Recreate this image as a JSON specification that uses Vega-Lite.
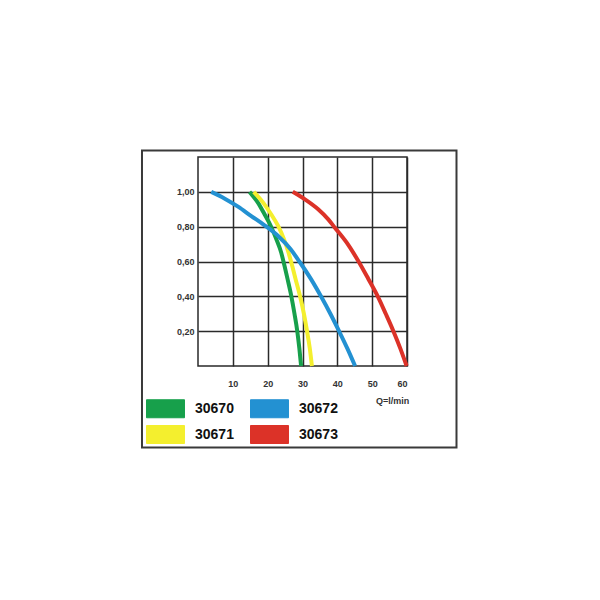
{
  "$schema": "https://vega.github.io/schema/vega-lite/v6.json",
  "width": 209,
  "height": 209,
  "autosize": {"type": "none"},
  "padding": {"left": 198, "top": 157, "right": 193, "bottom": 234},
  "background": "white",
  "config": {
    "view": {"stroke": "#2a2a2a", "strokeWidth": 1.5},
    "font": "Liberation Sans"
  },
  "data": {
    "values": [
      {"model": "30670", "q": 14.8, "h": 1.0},
      {"model": "30670", "q": 17.2, "h": 0.938},
      {"model": "30670", "q": 19.1, "h": 0.871},
      {"model": "30670", "q": 20.9, "h": 0.804},
      {"model": "30670", "q": 22.5, "h": 0.727},
      {"model": "30670", "q": 23.9, "h": 0.65},
      {"model": "30670", "q": 24.8, "h": 0.578},
      {"model": "30670", "q": 25.7, "h": 0.5},
      {"model": "30670", "q": 26.8, "h": 0.4},
      {"model": "30670", "q": 27.7, "h": 0.3},
      {"model": "30670", "q": 28.5, "h": 0.2},
      {"model": "30670", "q": 29.1, "h": 0.1},
      {"model": "30670", "q": 29.6, "h": 0.0},
      {"model": "30671", "q": 16.0, "h": 1.0},
      {"model": "30671", "q": 18.7, "h": 0.938},
      {"model": "30671", "q": 21.0, "h": 0.871},
      {"model": "30671", "q": 23.0, "h": 0.804},
      {"model": "30671", "q": 24.7, "h": 0.727},
      {"model": "30671", "q": 26.0, "h": 0.65},
      {"model": "30671", "q": 27.0, "h": 0.578},
      {"model": "30671", "q": 28.0, "h": 0.5},
      {"model": "30671", "q": 29.3, "h": 0.4},
      {"model": "30671", "q": 30.4, "h": 0.3},
      {"model": "30671", "q": 31.3, "h": 0.2},
      {"model": "30671", "q": 32.1, "h": 0.1},
      {"model": "30671", "q": 32.7, "h": 0.0},
      {"model": "30672", "q": 3.8, "h": 1.0},
      {"model": "30672", "q": 7.7, "h": 0.961},
      {"model": "30672", "q": 11.5, "h": 0.915},
      {"model": "30672", "q": 15.3, "h": 0.861},
      {"model": "30672", "q": 19.1, "h": 0.808},
      {"model": "30672", "q": 23.0, "h": 0.746},
      {"model": "30672", "q": 26.6, "h": 0.67},
      {"model": "30672", "q": 29.1, "h": 0.6},
      {"model": "30672", "q": 32.4, "h": 0.5},
      {"model": "30672", "q": 35.3, "h": 0.4},
      {"model": "30672", "q": 38.0, "h": 0.3},
      {"model": "30672", "q": 40.5, "h": 0.2},
      {"model": "30672", "q": 42.9, "h": 0.1},
      {"model": "30672", "q": 45.1, "h": 0.0},
      {"model": "30673", "q": 27.2, "h": 1.0},
      {"model": "30673", "q": 30.7, "h": 0.957},
      {"model": "30673", "q": 34.5, "h": 0.9},
      {"model": "30673", "q": 37.4, "h": 0.842},
      {"model": "30673", "q": 39.3, "h": 0.794},
      {"model": "30673", "q": 42.7, "h": 0.708},
      {"model": "30673", "q": 46.1, "h": 0.6},
      {"model": "30673", "q": 48.9, "h": 0.5},
      {"model": "30673", "q": 51.6, "h": 0.4},
      {"model": "30673", "q": 53.9, "h": 0.3},
      {"model": "30673", "q": 56.1, "h": 0.2},
      {"model": "30673", "q": 58.1, "h": 0.1},
      {"model": "30673", "q": 59.9, "h": 0.0}
    ]
  },
  "layer": [
    {
      "mark": {"type": "line", "strokeWidth": 4, "interpolate": "monotone", "clip": false},
      "encoding": {
        "x": {
          "field": "q",
          "type": "quantitative",
          "scale": {"domain": [0, 60], "nice": false, "zero": false},
          "axis": {
            "values": [10, 20, 30, 40, 50, 60],
            "grid": true,
            "domain": false,
            "ticks": false,
            "labelPadding": 13,
            "labelFontSize": 9,
            "labelFontWeight": "bold",
            "labelColor": "#333333",
            "gridColor": "#2a2a2a",
            "gridWidth": 1.5,
            "gridOpacity": 1,
            "title": "Q=l/min",
            "titleFontSize": 9,
            "titleFontWeight": "bold",
            "titleColor": "#333333",
            "titleX": 194,
            "titleY": 34,
            "titleBaseline": "middle",
            "titleAlign": "center",
            "titleAnchor": null
          }
        },
        "y": {
          "field": "h",
          "type": "quantitative",
          "scale": {"domain": [0, 1.2], "nice": false},
          "axis": {
            "values": [0.2, 0.4, 0.6, 0.8, 1.0],
            "grid": true,
            "labelExpr": "replace(format(datum.value, '.2f'), '.', ',')",
            "domain": false,
            "ticks": false,
            "labelPadding": 4,
            "labelFontSize": 9,
            "labelFontWeight": "bold",
            "labelColor": "#333333",
            "gridColor": "#2a2a2a",
            "gridWidth": 1.5,
            "gridOpacity": 1,
            "title": null
          }
        },
        "color": {
          "field": "model",
          "type": "nominal",
          "scale": {
            "domain": ["30670", "30672", "30671", "30673"],
            "range": ["#17a04b", "#2391d2", "#f4ef2e", "#dc3228"]
          },
          "legend": {
            "title": null,
            "orient": "none",
            "legendX": -52,
            "legendY": 242,
            "direction": "horizontal",
            "columns": 2,
            "padding": 0,
            "columnPadding": 14,
            "rowPadding": 3,
            "symbolType": "M-1,-1H3.222V1H-1Z",
            "symbolSize": 324,
            "symbolOffset": 0,
            "labelOffset": 30,
            "labelFont": "Liberation Sans",
            "labelFontSize": 14,
            "labelFontWeight": "bold",
            "labelColor": "#111111",
            "encode": {
              "symbols": {
                "update": {
                  "fill": {"scale": "color", "field": "value"},
                  "fillOpacity": {"value": 1},
                  "stroke": {"value": "#555555"},
                  "strokeWidth": {"value": 1}
                }
              }
            }
          }
        },
        "order": {"field": "q", "type": "quantitative"}
      }
    },
    {
      "data": {"values": [{}]},
      "mark": {"type": "rect", "fill": null, "stroke": "#3a3a3a", "strokeWidth": 2, "clip": false},
      "encoding": {
        "x": {"datum": -16.08, "type": "quantitative"},
        "x2": {"datum": 74.21},
        "y": {"datum": -0.468, "type": "quantitative"},
        "y2": {"datum": 1.2373}
      }
    }
  ]
}
